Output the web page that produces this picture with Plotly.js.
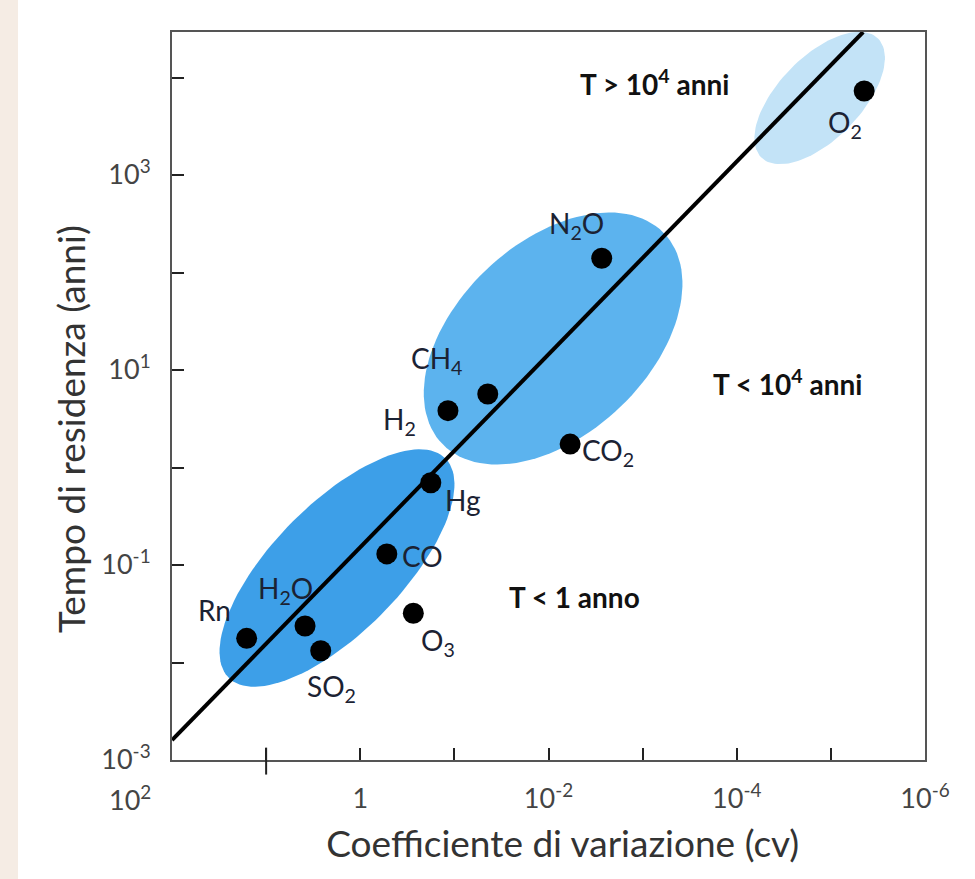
<!DOCTYPE html>
<html>
<head>
<meta charset="utf-8">
<script src="https://cdn.plot.ly/plotly-3.0.1.min.js"></script>
<style>html,body{margin:0;padding:0;background:#fff;}#chart{width:975px;height:879px;}</style>
</head>
<body>
<div id="chart"></div>
<script>
// ---- data ----
const gases = ['Rn', 'H<sub>2</sub>O', 'SO<sub>2</sub>', 'CO', 'O<sub>3</sub>', 'Hg', 'H<sub>2</sub>', 'CH<sub>4</sub>', 'CO<sub>2</sub>', 'N<sub>2</sub>O', 'O<sub>2</sub>'];
const cvValues = [16.1, 3.86, 2.63, 0.522, 0.273, 0.178, 0.117, 0.0442, 0.00589, 0.00272, 4.43e-6];
const residenceYears = [0.0177, 0.0237, 0.0132, 0.130, 0.0320, 0.698, 3.83, 5.68, 1.74, 140, 7280];

// regression line end points (cv, years)
const fitCv = [100, 4.54e-6];
const fitYears = [0.0016, 29300];

// groups (ellipses) in decades: centre log10(cv), centre log10(T), semi-major, semi-minor, tilt (deg)
const groupNames = ['T < 1 anno', 'T < 10^4 anni', 'T > 10^4 anni'];
const groupCentreLogCv = [0.247, -2.049, -4.881];
const groupCentreLogT = [-1.031, 1.323, 3.790];
const groupSemiMajor = [1.61, 1.60, 0.87];
const groupSemiMinor = [0.67, 1.00, 0.43];
const groupTilt = [44, 41, 44];

// axis ticks
const xTickVals = [1, 0.01, 1e-4, 1e-6];
const xTickText = ['1', '10<sup>-2</sup>', '10<sup>-4</sup>', '10<sup>-6</sup>'];
const xMinorVals = [10, 0.1, 1e-3, 1e-5];
const yTickVals = [1e-3, 1e-1, 10, 1e3];
const yTickText = ['10<sup>-3</sup>', '10<sup>-1</sup>', '10<sup>1</sup>', '10<sup>3</sup>'];
const yMinorVals = [1e-2, 1, 100, 1e4];
const firstXTickLabel = '10<sup>2</sup>';

// ---- styling ----
const groupColors = ['#3d9fe8', '#5cb3ee', '#c3e3f7'];
const labelShift = [[-32, 28], [-20, 36], [11, -37], [36, -2], [25, -29], [32, -17], [-48, -10], [-51, 34], [38, -8], [-25, 33], [-19, -33]];
const labelColor = '#1b2233';
const FONT = 'Lato, sans-serif';
const PAD = '&#160;';

const traces = [];
for (let g = 0; g < groupNames.length; g++) {
  const th = groupTilt[g] * Math.PI / 180;
  const xs = [], ys = [];
  for (let k = 0; k <= 120; k++) {
    const t = 2 * Math.PI * k / 120;
    const du = groupSemiMajor[g] * Math.cos(th) * Math.cos(t) - groupSemiMinor[g] * Math.sin(th) * Math.sin(t);
    const dv = groupSemiMajor[g] * Math.sin(th) * Math.cos(t) + groupSemiMinor[g] * Math.cos(th) * Math.sin(t);
    xs.push(Math.pow(10, groupCentreLogCv[g] - du));
    ys.push(Math.pow(10, groupCentreLogT[g] + dv));
  }
  traces.push({x: xs, y: ys, type: 'scatter', mode: 'lines', fill: 'toself',
    fillcolor: groupColors[g], line: {width: 0, color: groupColors[g]}, hoverinfo: 'skip', name: groupNames[g]});
}
traces.push({x: fitCv, y: fitYears, type: 'scatter', mode: 'lines', line: {color: '#000', width: 4}, hoverinfo: 'skip'});
traces.push({x: cvValues, y: residenceYears, type: 'scatter', mode: 'markers', text: gases,
  marker: {color: '#000', size: 21}, hoverinfo: 'text', cliponaxis: false});

const annotations = gases.map((g, i) => ({
  x: Math.log10(cvValues[i]), y: Math.log10(residenceYears[i]), xref: 'x', yref: 'y',
  text: g, showarrow: false, xshift: labelShift[i][0], yshift: labelShift[i][1],
  xanchor: 'center', yanchor: 'middle',
  font: {family: FONT, size: 28, color: labelColor}
}));
const regionLabels = [
  {text: 'T &gt; 10<sup>4</sup> anni', x: 0.641, y: 0.931},
  {text: 'T &lt; 10<sup>4</sup> anni', x: 0.818, y: 0.519},
  {text: 'T &lt; 1 anno', x: 0.535, y: 0.224}
];
regionLabels.forEach(r => annotations.push({
  xref: 'paper', yref: 'paper', x: r.x, y: r.y, text: '<b>' + r.text + '</b>', showarrow: false,
  xanchor: 'center', yanchor: 'middle',
  font: {family: FONT, size: 28, color: '#111'}
}));
// first x tick label sits left of the axis start in the original
annotations.push({xref: 'paper', yref: 'paper', x: -0.056, y: -0.052, text: firstXTickLabel, showarrow: false,
  xanchor: 'center', yanchor: 'middle',
  font: {family: FONT, size: 27, color: '#444'}});

const layout = {
  width: 975, height: 879,
  margin: {l: 172, r: 50, t: 32, b: 119},
  paper_bgcolor: '#ffffff', plot_bgcolor: '#ffffff',
  showlegend: false,
  font: {family: FONT, color: '#222'},
  xaxis: {
    type: 'log', range: [2, -6], showline: true, mirror: true, linecolor: '#555', linewidth: 2,
    ticks: 'inside', ticklen: 12, tickwidth: 2, tickcolor: '#222',
    tickmode: 'array', tickvals: xTickVals, ticktext: xTickText, showgrid: false, zeroline: false,
    minor: {tickmode: 'array', tickvals: xMinorVals, ticks: 'inside', ticklen: 12, tickwidth: 2, tickcolor: '#222', showgrid: false},
    tickfont: {size: 27, color: '#444'}, ticklabelstandoff: 14,
    title: {text: PAD.repeat(3) + 'Coefficiente di variazione (cv)', font: {size: 37, color: '#333'}, standoff: 18}
  },
  yaxis: {
    type: 'log', range: [-3, 4.467], showline: true, mirror: true, linecolor: '#555', linewidth: 2,
    ticks: 'inside', ticklen: 12, tickwidth: 2, tickcolor: '#222',
    tickmode: 'array', tickvals: yTickVals, ticktext: yTickText, showgrid: false, zeroline: false,
    minor: {tickmode: 'array', tickvals: yMinorVals, ticks: 'inside', ticklen: 12, tickwidth: 2, tickcolor: '#222', showgrid: false},
    tickfont: {size: 27, color: '#444'}, ticklabelstandoff: 14,
    title: {text: 'Tempo di residenza (anni)' + PAD.repeat(7), font: {size: 37, color: '#333'}, standoff: 4}
  },
  shapes: [
    {type: 'rect', xref: 'paper', yref: 'paper', x0: -0.2284, x1: -0.2045, y0: -0.17, y1: 1.05,
      fillcolor: '#f5ece4', line: {width: 0}, layer: 'below'},
    {type: 'line', xref: 'x', yref: 'paper', x0: 10, x1: 10, y0: -0.02, y1: 0.017, line: {color: '#222', width: 2}}
  ],
  annotations: annotations
};

Plotly.newPlot('chart', traces, layout, {displayModeBar: false, staticPlot: true});
</script>
</body>
</html>
